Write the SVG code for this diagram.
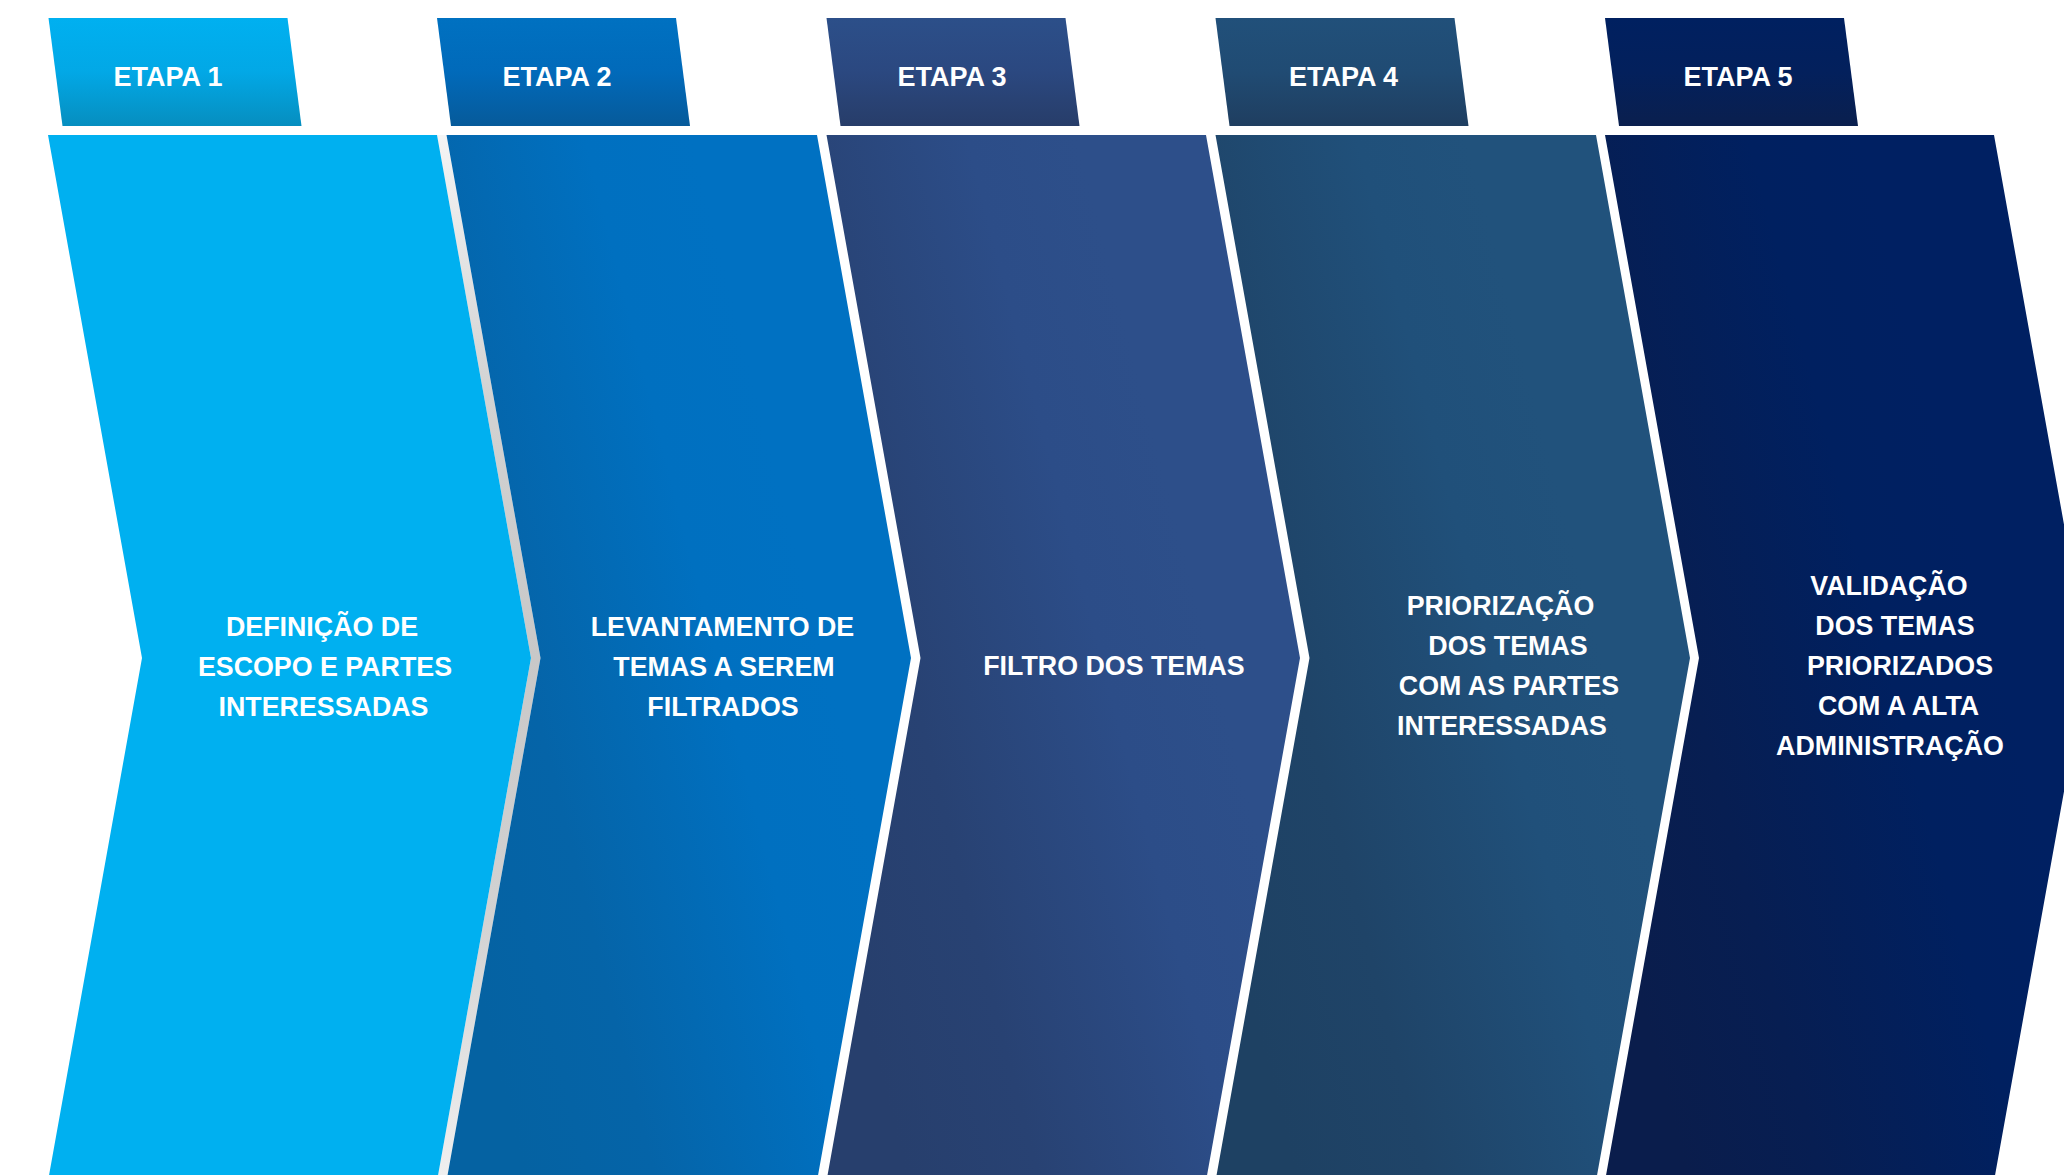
<svg xmlns="http://www.w3.org/2000/svg" width="2064" height="1175" viewBox="0 0 2064 1175">
  <style>
    .t { font-family: "Liberation Sans", Arial, Helvetica, sans-serif; font-weight: bold; fill: #FFFFFF; text-anchor: middle; }
    .tab { font-size: 27px; }
    .body { font-size: 26.8px; }
  </style>
  <defs>
    <linearGradient id="tab1" x1="0" y1="0" x2="0" y2="1">
      <stop offset="0" stop-color="#00B0F0"/><stop offset="0.5" stop-color="#02A8E6"/><stop offset="1" stop-color="#068EBF"/>
    </linearGradient>
    <linearGradient id="tab2" x1="0" y1="0" x2="0" y2="1">
      <stop offset="0" stop-color="#0071C1"/><stop offset="0.5" stop-color="#016ABA"/><stop offset="1" stop-color="#065A9A"/>
    </linearGradient>
    <linearGradient id="tab3" x1="0" y1="0" x2="0" y2="1">
      <stop offset="0" stop-color="#2C4F89"/><stop offset="0.5" stop-color="#2B4880"/><stop offset="1" stop-color="#273D69"/>
    </linearGradient>
    <linearGradient id="tab4" x1="0" y1="0" x2="0" y2="1">
      <stop offset="0" stop-color="#21507A"/><stop offset="0.5" stop-color="#204B73"/><stop offset="1" stop-color="#1F3E60"/>
    </linearGradient>
    <linearGradient id="tab5" x1="0" y1="0" x2="0" y2="1">
      <stop offset="0" stop-color="#002060"/><stop offset="0.5" stop-color="#03205C"/><stop offset="1" stop-color="#0A1F4E"/>
    </linearGradient>
    <linearGradient id="ch2" x1="0" y1="0.7" x2="0.7" y2="0.3">
      <stop offset="0" stop-color="#0562A2"/><stop offset="0.3" stop-color="#0564A8"/><stop offset="0.75" stop-color="#0070C0"/><stop offset="1" stop-color="#0071C2"/>
    </linearGradient>
    <linearGradient id="ch3" x1="0" y1="0.7" x2="0.7" y2="0.3">
      <stop offset="0" stop-color="#273F6D"/><stop offset="0.3" stop-color="#284273"/><stop offset="0.75" stop-color="#2C4D88"/><stop offset="1" stop-color="#2D4F8A"/>
    </linearGradient>
    <linearGradient id="ch4" x1="0" y1="0.7" x2="0.7" y2="0.3">
      <stop offset="0" stop-color="#1E4163"/><stop offset="0.3" stop-color="#1F4468"/><stop offset="0.75" stop-color="#20507A"/><stop offset="1" stop-color="#21527C"/>
    </linearGradient>
    <linearGradient id="ch5" x1="0" y1="0.7" x2="0.7" y2="0.3">
      <stop offset="0" stop-color="#0A1D4C"/><stop offset="0.3" stop-color="#071E52"/><stop offset="0.75" stop-color="#002060"/><stop offset="1" stop-color="#002062"/>
    </linearGradient>
    <linearGradient id="gap" x1="0" y1="135" x2="0" y2="1181" gradientUnits="userSpaceOnUse">
      <stop offset="0" stop-color="#F4F4F4"/><stop offset="0.25" stop-color="#D2D2D2"/><stop offset="0.5" stop-color="#C8C8C8"/><stop offset="0.75" stop-color="#D2D2D2"/><stop offset="1" stop-color="#F0F0F0"/>
    </linearGradient>
  </defs>
  <rect x="0" y="0" width="2064" height="1175" fill="#FFFFFF"/>

  <g id="connectors"/>

  <g id="gap-1-2">
    <polygon points="437,135 446.5,135 540.5,658 446.5,1181 437,1181 531,658" fill="url(#gap)"/>
  </g>

  <g id="etapa1">
    <polygon points="48.5,18 287.5,18 301.5,126 62.5,126" fill="url(#tab1)"/>
    <text class="t tab" x="168" y="86">ETAPA 1</text>
  </g>
  <g id="etapa2">
    <polygon points="437,18 676,18 690,126 451,126" fill="url(#tab2)"/>
    <text class="t tab" x="557" y="86">ETAPA 2</text>
  </g>
  <g id="etapa3">
    <polygon points="826.5,18 1065.5,18 1079.5,126 840.5,126" fill="url(#tab3)"/>
    <text class="t tab" x="952" y="86">ETAPA 3</text>
  </g>
  <g id="etapa4">
    <polygon points="1215.5,18 1454.5,18 1468.5,126 1229.5,126" fill="url(#tab4)"/>
    <text class="t tab" x="1343.5" y="86">ETAPA 4</text>
  </g>
  <g id="etapa5">
    <polygon points="1605,18 1844,18 1858,126 1619,126" fill="url(#tab5)"/>
    <text class="t tab" x="1738" y="86">ETAPA 5</text>
  </g>

  <g id="step1">
    <polygon points="48,135 437,135 531,658 437,1181 48,1181 142,658" fill="#00B0F0"/>
    <text class="t body" x="322" y="636">DEFINIÇÃO DE</text>
    <text class="t body" x="325" y="676">ESCOPO E PARTES</text>
    <text class="t body" x="323.5" y="716">INTERESSADAS</text>
  </g>
  <g id="step2">
    <polygon points="446.5,135 817,135 911,658 817,1181 446.5,1181 540.5,658" fill="url(#ch2)"/>
    <text class="t body" x="722.5" y="636">LEVANTAMENTO DE</text>
    <text class="t body" x="724" y="676">TEMAS A SEREM</text>
    <text class="t body" x="723" y="716">FILTRADOS</text>
  </g>
  <g id="step3">
    <polygon points="826.5,135 1206,135 1300,658 1206,1181 826.5,1181 920.5,658" fill="url(#ch3)"/>
    <text class="t body" x="1114" y="675">FILTRO DOS TEMAS</text>
  </g>
  <g id="step4">
    <polygon points="1215.5,135 1596,135 1690,658 1596,1181 1215.5,1181 1309.5,658" fill="url(#ch4)"/>
    <text class="t body" x="1500.5" y="615">PRIORIZAÇÃO</text>
    <text class="t body" x="1508" y="655">DOS TEMAS</text>
    <text class="t body" x="1509" y="695">COM AS PARTES</text>
    <text class="t body" x="1502" y="735">INTERESSADAS</text>
  </g>
  <g id="step5">
    <polygon points="1605,135 1994,135 2088,658 1994,1181 1605,1181 1699,658" fill="url(#ch5)"/>
    <text class="t body" x="1889" y="595">VALIDAÇÃO</text>
    <text class="t body" x="1895" y="635">DOS TEMAS</text>
    <text class="t body" x="1900" y="675">PRIORIZADOS</text>
    <text class="t body" x="1898.5" y="715">COM A ALTA</text>
    <text class="t body" x="1890" y="755">ADMINISTRAÇÃO</text>
  </g>
</svg>
